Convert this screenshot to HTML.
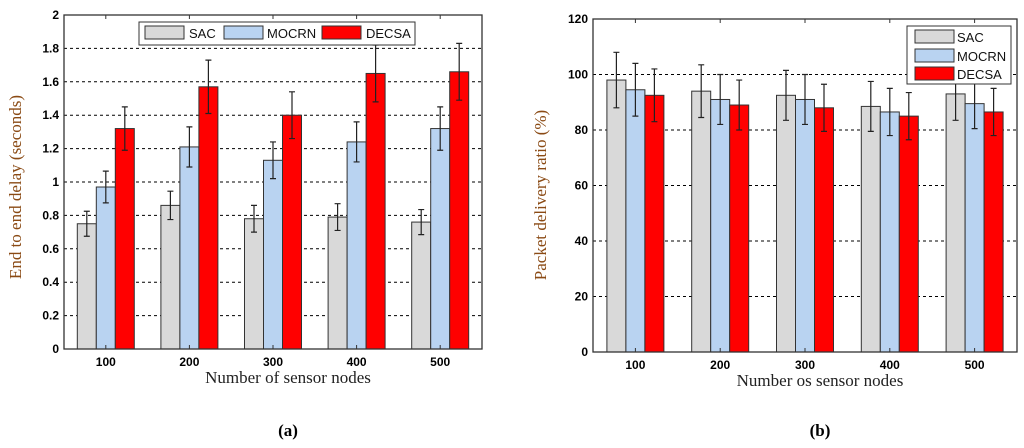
<!DOCTYPE html>
<html><head><meta charset="utf-8"><style>
body{margin:0;background:#fff;width:1024px;height:443px;overflow:hidden}
svg text{font-family:"Liberation Sans",Arial,sans-serif}
.serif{font-family:"Liberation Serif",serif}
</style></head><body>
<svg id="s" width="1024" height="443"></svg>
<script>
const categories=["100","200","300","400","500"];
const seriesNames=["SAC","MOCRN","DECSA"];
const colors=["#d9d9d9","#b9d3f1","#ff0000"];
const delaySAC=[0.75,0.86,0.78,0.79,0.76];
const delayMOCRN=[0.97,1.21,1.13,1.24,1.32];
const delayDECSA=[1.32,1.57,1.40,1.65,1.66];
const delayErrSAC=[0.075,0.085,0.08,0.08,0.075];
const delayErrMOCRN=[0.095,0.12,0.11,0.12,0.13];
const delayErrDECSA=[0.13,0.16,0.14,0.17,0.17];
const delayTicks=["0","0.2","0.4","0.6","0.8","1","1.2","1.4","1.6","1.8","2"];
const pdrSAC=[98,94,92.5,88.5,93];
const pdrMOCRN=[94.5,91,91,86.5,89.5];
const pdrDECSA=[92.5,89,88,85,86.5];
const pdrErrSAC=[10,9.5,9,9,9.5];
const pdrErrMOCRN=[9.5,9,9,8.5,9];
const pdrErrDECSA=[9.5,9,8.5,8.5,8.5];
const pdrTicks=["0","20","40","60","80","100","120"];

const NS="http://www.w3.org/2000/svg";
const svg=document.getElementById('s');
function mk(tag,attrs,parent,txt){const e=document.createElementNS(NS,tag);for(const k in attrs)e.setAttribute(k,attrs[k]);if(txt!==undefined)e.textContent=txt;(parent||svg).appendChild(e);return e;}

function chart(o){
  const g=mk('g',{});
  
  
  const {L,R,T,B,ymax}=o;
  const y=v=>B-(v/ymax)*(B-T);
  const step=(R-L)/categories.length;
  const cx=i=>L+step*(i+0.5);
  const bw=19;
  o.ticks.forEach(t=>{const v=parseFloat(t);const yy=y(v);
    if(v>0&&v<ymax){const gl=mk('line',{x1:L,x2:R,y1:yy,y2:yy,stroke:'#000','stroke-dasharray':'3,3','stroke-width':1},g);}
    const tl=mk('text',{x:L-5,y:yy+4,'text-anchor':'end','font-size':12,'font-weight':'bold'},g,t);
    
  });
  o.series.forEach((vals,si)=>{
    vals.forEach((v,i)=>{
      const x=cx(i)+(si-1)*bw-bw/2;
      const r=mk('rect',{x:x,y:y(v),width:bw,height:B-y(v),fill:colors[si],stroke:'#333','stroke-width':1},g);
      
      
      const e=o.errs[si][i],xc=x+bw/2;
      const eb=mk('path',{d:`M${xc},${y(v-e)}V${y(v+e)}M${xc-3},${y(v-e)}h6M${xc-3},${y(v+e)}h6`,stroke:'#222','stroke-width':1.2,fill:'none'},g);
      
    });
  });
  const ax=mk('rect',{x:L,y:T,width:R-L,height:B-T,fill:'none',stroke:'#333','stroke-width':1.3},g);
  
  categories.forEach((c,i)=>{
    mk('line',{x1:cx(i),x2:cx(i),y1:T,y2:T+4,stroke:'#333'},g);
    mk('line',{x1:cx(i),x2:cx(i),y1:B,y2:B-4,stroke:'#333'},g);
    const t=mk('text',{x:cx(i),y:B+17,'text-anchor':'middle','font-size':12,'font-weight':'bold'},g,c);
    
  });
  const xt=mk('text',{x:o.xtx,y:B+34,'text-anchor':'middle','font-size':17,class:'serif',fill:'#222'},g,o.xtitle);
  
  const yt=mk('text',{x:0,y:0,'text-anchor':'middle','font-size':17,class:'serif',fill:'#8a4a14',transform:`translate(${o.ytx},${o.yty}) rotate(-90)`},g,o.ytitle);
  
  const pl=mk('text',{x:o.xtx,y:436,'text-anchor':'middle','font-size':17,'font-weight':'bold',class:'serif'},g,o.panel);
  
  return g;
}
chart({name:'delay-chart',L:64,R:482,T:15,B:349,ymax:2,ticks:delayTicks,series:[delaySAC,delayMOCRN,delayDECSA],errs:[delayErrSAC,delayErrMOCRN,delayErrDECSA],xtitle:'Number of sensor nodes',xtx:288,ytitle:'End to end delay (seconds)',ytx:21,yty:187,panel:'(a)'});
chart({name:'pdr-chart',L:593,R:1017,T:19,B:352,ymax:120,ticks:pdrTicks,series:[pdrSAC,pdrMOCRN,pdrDECSA],errs:[pdrErrSAC,pdrErrMOCRN,pdrErrDECSA],xtitle:'Number os sensor nodes',xtx:820,ytitle:'Packet delivery ratio (%)',ytx:546,yty:195,panel:'(b)'});
const la=mk('g',{});

mk('rect',{x:139,y:22,width:276,height:23,fill:'#fff',stroke:'#333'},la);
[[145,189],[224,267],[322,366]].forEach((p,i)=>{
  const e=mk('g',{},la);
  
  mk('rect',{x:p[0],y:26,width:39,height:13,fill:colors[i],stroke:'#333'},e);
  mk('text',{x:p[1],y:38,'font-size':13,fill:'#111'},e,seriesNames[i]);
});
const lb=mk('g',{});

mk('rect',{x:907,y:26,width:104,height:58,fill:'#fff',stroke:'#333'},lb);
[30,49,67].forEach((yy,i)=>{
  const e=mk('g',{},lb);
  
  mk('rect',{x:915,y:yy,width:39,height:13,fill:colors[i],stroke:'#333'},e);
  mk('text',{x:957,y:yy+12,'font-size':13,fill:'#111'},e,seriesNames[i]);
});
</script>
</body></html>
